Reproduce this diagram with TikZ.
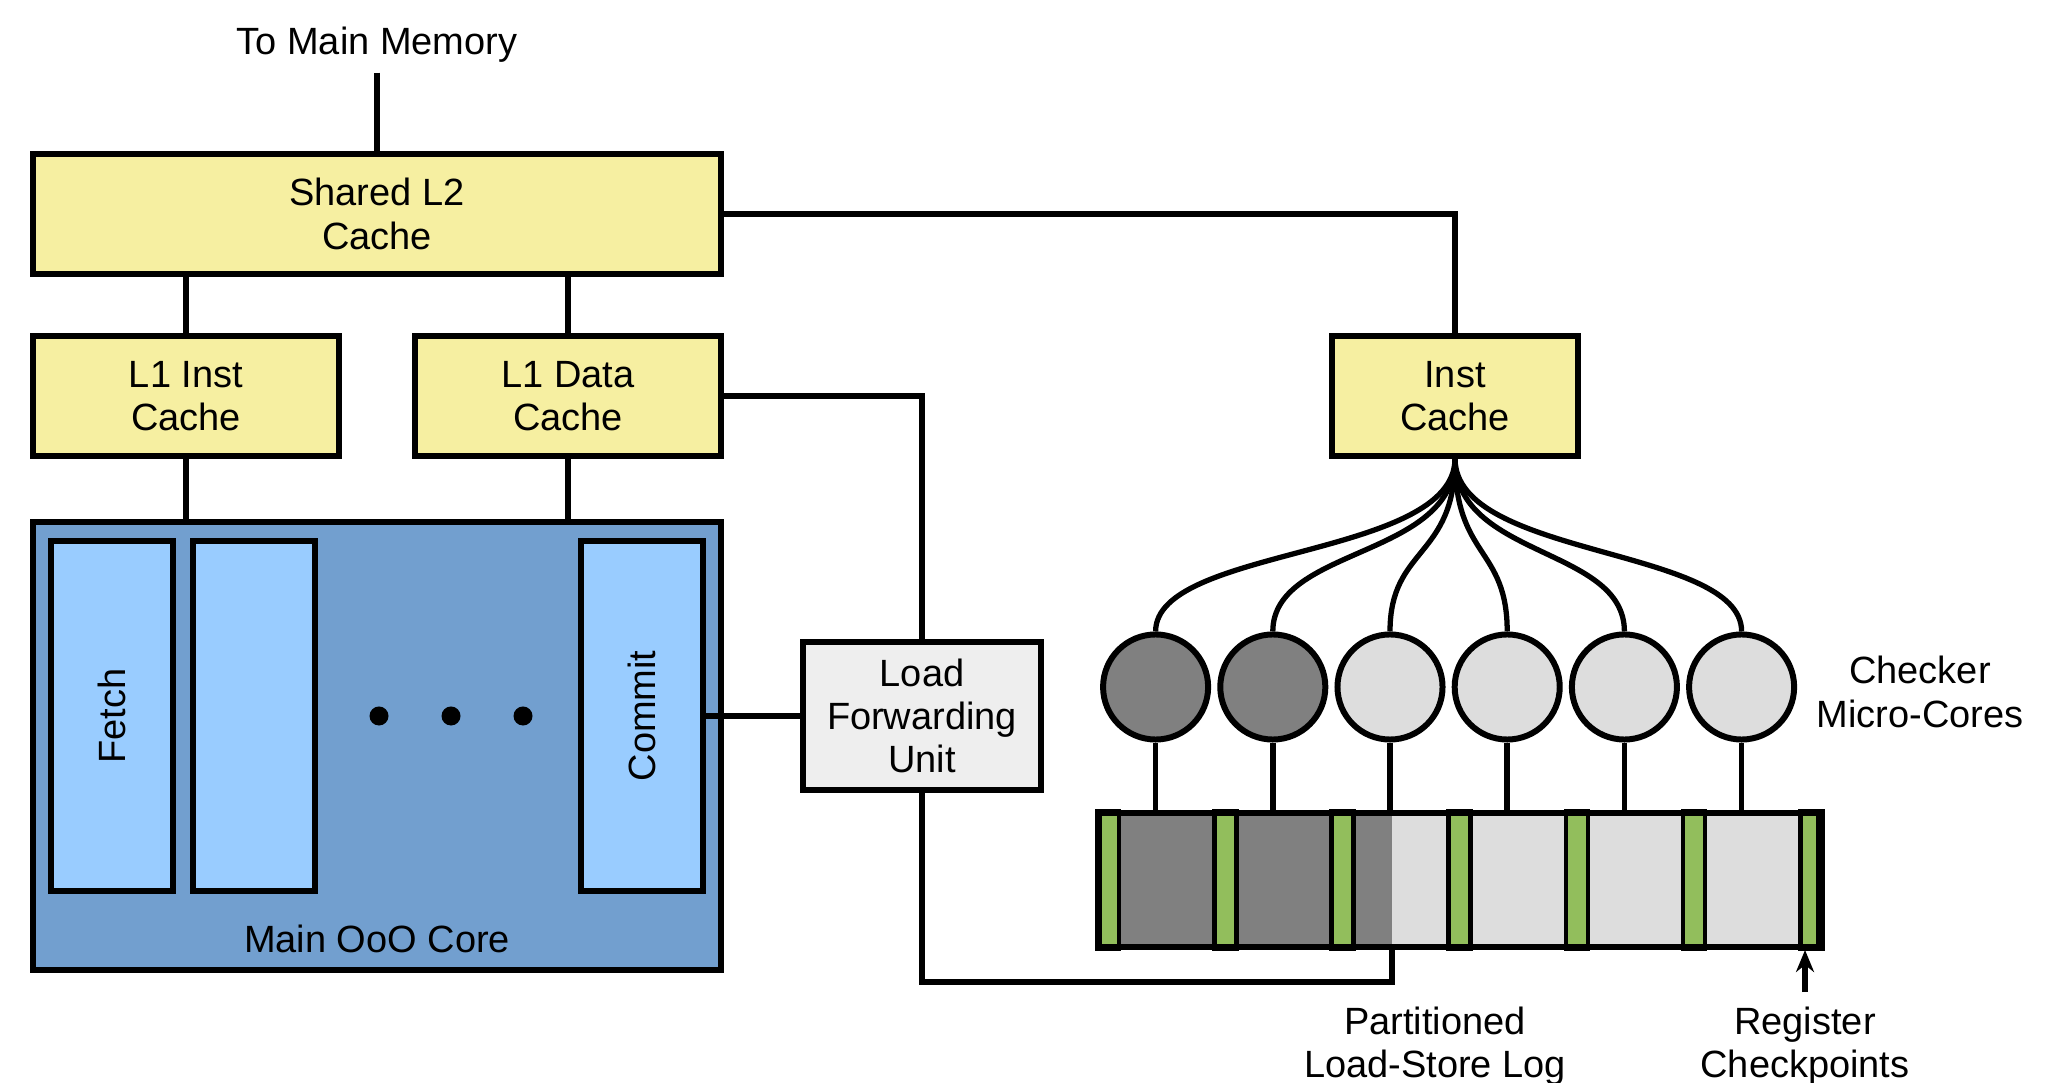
\documentclass[tikz,border=0pt]{standalone}
\usepackage{fontspec}
\setmainfont{Liberation Sans}
\usetikzlibrary{arrows.meta}

\definecolor{cacheyellow}{HTML}{F6EFA1}
\definecolor{coreblue}{HTML}{729FCF}
\definecolor{stageblue}{HTML}{99CCFF}
\definecolor{lfugray}{HTML}{EEEEEE}
\definecolor{busygray}{HTML}{808080}
\definecolor{idlegray}{HTML}{DDDDDD}
\definecolor{ckptgreen}{HTML}{92BE5C}

\begin{document}
\begin{tikzpicture}[x=0.01cm, y=-0.01cm, line width=1.6pt,
    every node/.style={font=\fontsize{10.8}{12.3}\selectfont, align=center},
    box/.style={draw, line width=1.7pt, inner sep=0pt},
    cache/.style={box, fill=cacheyellow, minimum height=1.19cm},
    stage/.style={box, fill=stageblue, minimum width=1.22cm, minimum height=3.5cm},
    ucore/.style={circle, draw, line width=1.7pt, minimum size=1.05cm, inner sep=0pt}]
    \useasboundingbox (0,0) rectangle (2067,1083);

    % caches
    \node[inner ysep=2pt] (mem) at (377,45) {To Main Memory};
    \node[cache, minimum width=6.88cm] (l2) at (377,214) {Shared L2\\Cache};
    \node[cache, minimum width=3.06cm] (l1i) at (186,396) {L1 Inst\\Cache};
    \node[cache, minimum width=3.06cm] (l1d) at (568,396) {L1 Data\\Cache};
    \node[cache, minimum width=2.45cm] (icache) at (1455,396) {Inst\\Cache};

    % main core
    \node[box, fill=coreblue, minimum width=6.88cm, minimum height=4.47cm] (ooo) at (377,746) {};
    \node (ooolabel) at (377,939) {Main OoO Core};
    \node[stage] (fetch) at (112,716) {};
    \node[stage] (stage2) at (254,716) {};
    \node[stage] (commit) at (642,716) {};
    \node[rotate=90] at (fetch) {Fetch};
    \node[rotate=90] at (commit) {Commit};
    \foreach \x in {379,451,523}
        \fill (\x,716) circle (0.095cm);

    \node[box, fill=lfugray, minimum width=2.38cm, minimum height=1.48cm] (lfu) at (922,716) {Load\\Forwarding\\Unit};

    \draw (mem.south) -- (l2.north);
    \draw (l2.south -| l1i) -- (l1i.north);
    \draw (l2.south -| l1d) -- (l1d.north);
    \draw (l1i.south) -- (l1i.south |- ooo.north);
    \draw (l1d.south) -- (l1d.south |- ooo.north);
    \draw (l2.east) -| (icache.north);
    \draw (l1d.east) -| (lfu.north);
    \draw (commit.east) -- (lfu.west);

    % checker micro-cores
    \foreach \i/\c in {1/busygray,2/busygray,3/idlegray,4/idlegray,5/idlegray,6/idlegray}
        \node[ucore, fill=\c] (mc\i) at ({1038.4+117.2*\i},687) {};
    \foreach \i in {1,...,6}
        \draw[line width=1.5pt] (icache.south) .. controls +(0,100) and +(0,-85) .. (mc\i.north);
    \node (mclabel) at (1920,692) {Checker\\Micro-Cores};

    % load-store log
    \fill[busygray] (1097,811) rectangle (1392,949);
    \fill[idlegray] (1392,811) rectangle (1821,949);
    \foreach \i in {0,...,6}
        \draw[fill=ckptgreen, line width=1.3pt] ({1097+117.2*\i},811) rectangle +(22,138);
    \node[box, minimum width=7.2cm, minimum height=1.34cm] (lsl) at (1459,880) {};
    \foreach \i in {1,...,6}
        \draw (mc\i.south) -- (mc\i.south |- lsl.north);

    \coordinate (lsltap) at (1392,982);
    \draw (lfu.south) |- (lsltap) -- (lsltap |- lsl.south);

    \node (lsllabel) at (1435,1046) {Partitioned\\Load-Store Log};
    \node (ckptlabel) at (1805,1046) {Register\\Checkpoints};
    \coordinate (ckptfoot) at (1805,992);
    \draw[-{Stealth[length=0.22cm, width=0.18cm]}] (ckptfoot) -- (ckptfoot |- lsl.south);
\end{tikzpicture}
\end{document}
